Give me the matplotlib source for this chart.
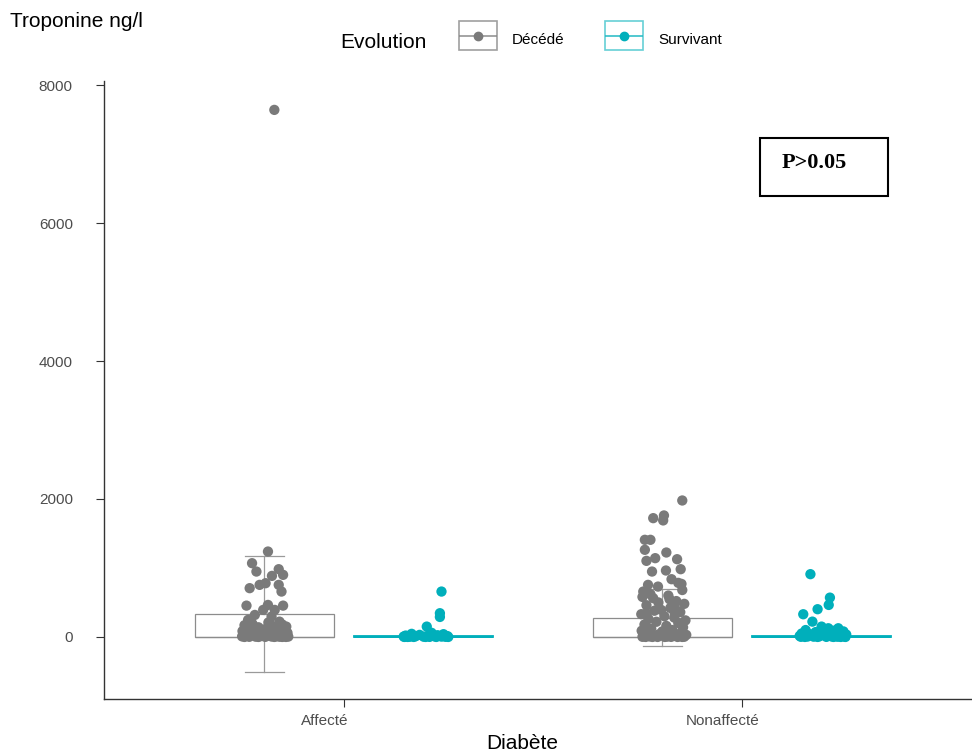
import matplotlib
matplotlib.use("Agg")
import matplotlib.pyplot as plt
import matplotlib.transforms as mtransforms
from matplotlib.patches import Rectangle
from matplotlib.lines import Line2D

plt.rcParams['font.family'] = ['Liberation Sans', 'DejaVu Sans']

groups = ['Affecté', 'Nonaffecté']
evolutions = ['Décédé', 'Survivant']
col_dec = '#7a7a7a'
col_surv = '#00AFBB'

# boxplot stats per group (Affecté, Nonaffecté)
dec_whislo = [-508, -130]
dec_q1 = [0, 0]
dec_med = [0, 0]
dec_q3 = [334, 276]
dec_whishi = [1176, 700]

surv_whislo = [0, 0]
surv_q1 = [0, 0]
surv_med = [0, 0]
surv_q3 = [12, 12]
surv_whishi = [25, 25]

# jittered points: values and horizontal jitter (category units)
dec_aff_vals = [7640, 1238, 1069, 948, 982, 885, 900, 779, 755, 707, 755, 658,
                454, 464, 454, 392, 392, 319, 247, 295, 222,
                210, 190, 180, 170, 160, 150, 140, 130, 120, 110, 100, 95, 90,
                85, 80, 75, 70, 65, 60, 55, 50, 45, 40, 35, 30, 28, 25, 22,
                20, 18, 15, 12, 10, 8, 6, 5, 4, 3, 2, 1, 0, 0, 0, 0, 0]
dec_aff_jit = [0.025, 0.009, -0.031, -0.020, 0.036, 0.019, 0.047, 0.003, -0.012,
               -0.037, 0.036, 0.043, -0.045, 0.009, 0.047, 0.026, -0.003,
               -0.024, -0.041, 0.018, 0.038,
               0.010, -0.030, 0.045, -0.050, 0.020, 0.055, -0.015, 0.035,
               -0.040, 0.000, 0.050, -0.025, 0.028, -0.055, 0.015, 0.042,
               -0.008, -0.035, 0.058, 0.005, -0.048, 0.032, -0.018, 0.052,
               -0.030, 0.022, -0.052, 0.040, 0.012, -0.043, 0.048, -0.010,
               0.030, -0.056, 0.018, 0.060, -0.022, 0.038, -0.038, 0.002,
               -0.050, 0.054, 0.025, -0.015, 0.045]

surv_aff_vals = [658, 344, 290, 150, 60, 45, 40, 30, 25, 20, 15, 12, 10, 8,
                 6, 5, 4, 3, 2, 1, 0, 0, 0, 0, 0, 0]
surv_aff_jit = [0.045, 0.041, 0.041, 0.008, 0.020, -0.030, 0.050, -0.010,
                0.035, -0.045, 0.010, 0.060, -0.020, 0.028, -0.050, 0.045,
                0.000, -0.035, 0.055, 0.015, -0.048, 0.062, -0.025, 0.032,
                -0.040, 0.005]

dec_non_vals = [1978, 1722, 1761, 1689, 1408, 1408, 1263, 1224, 1103, 1142, 1127,
                948, 963, 982, 837, 769, 784, 755, 730, 658, 562, 547, 440,
                392, 344, 344,
                680, 620, 600, 580, 520, 500, 480, 460, 420, 380, 360, 330,
                300, 280, 260, 240, 220, 200, 180, 160, 140, 120, 100, 90,
                80, 70, 60, 50, 40, 30, 25, 20, 15, 10, 8, 5, 3, 2, 1,
                0, 0, 0, 0, 0, 0]
dec_non_jit = [0.050, -0.023, 0.004, 0.002, -0.044, -0.030, -0.044, 0.010,
               -0.040, -0.018, 0.037, -0.026, 0.009, 0.046, 0.023, 0.048,
               0.040, -0.036, -0.011, -0.048, -0.023, 0.018, 0.031, -0.003,
               -0.040, 0.031,
               0.050, -0.030, 0.015, -0.050, 0.035, -0.010, 0.055, -0.040,
               0.020, -0.020, 0.045, -0.053, 0.005, 0.030, -0.035, 0.058,
               -0.015, 0.040, -0.045, 0.010, 0.052, -0.028, 0.025, -0.052,
               0.000, 0.048, -0.038, 0.018, -0.008, 0.060, -0.048, 0.032,
               -0.022, 0.042, -0.032, 0.012, 0.055, -0.050, 0.022, -0.012,
               0.038, -0.042, 0.006, 0.050, -0.025]

surv_non_vals = [910, 570, 464, 402, 329, 222, 150, 126, 126,
                 100, 90, 80, 70, 60, 50, 45, 40, 35, 30, 25, 20, 18, 15, 12,
                 10, 8, 6, 5, 4, 3, 2, 1, 0, 0, 0, 0, 0]
surv_non_jit = [-0.028, 0.021, 0.018, -0.010, -0.046, -0.023, 0.000, 0.042, 0.017,
                -0.040, 0.030, 0.055, -0.015, 0.010, -0.050, 0.045, -0.030,
                0.062, 0.000, -0.045, 0.035, 0.020, -0.055, 0.050, -0.005,
                0.025, -0.035, 0.058, -0.020, 0.040, -0.052, 0.012, 0.060,
                -0.042, 0.030, -0.010, 0.048]

fig = plt.figure(figsize=(9.72, 7.54), dpi=100)
ax = fig.add_axes([0.107, 0.0729, 0.893, 0.8196])

dodge = 0.2
width = 0.35

for gi in range(len(groups)):
    xc = gi + 1
    dec = dict(whislo=dec_whislo[gi], q1=dec_q1[gi], med=dec_med[gi],
               q3=dec_q3[gi], whishi=dec_whishi[gi], fliers=[])
    ax.bxp([dec], positions=[xc - dodge], widths=width, capwidths=0.098,
           showfliers=False, patch_artist=True,
           boxprops=dict(facecolor='white', edgecolor='#8c8c8c', linewidth=0.9),
           whiskerprops=dict(color='#9a9a9a', linewidth=0.9),
           capprops=dict(color='#9a9a9a', linewidth=0.9),
           medianprops=dict(color='#8c8c8c', linewidth=0.9))
    surv = dict(whislo=surv_whislo[gi], q1=surv_q1[gi], med=surv_med[gi],
                q3=surv_q3[gi], whishi=surv_whishi[gi], fliers=[])
    ax.bxp([surv], positions=[xc + dodge], widths=width, capwidths=0.098,
           showfliers=False, patch_artist=True,
           boxprops=dict(facecolor='white', edgecolor=col_surv, linewidth=1.3),
           whiskerprops=dict(color=col_surv, linewidth=1.0),
           capprops=dict(color=col_surv, linewidth=1.0),
           medianprops=dict(color=col_surv, linewidth=1.3))

point_sets = [
    (1 - dodge, dec_aff_vals, dec_aff_jit, col_dec),
    (1 + dodge, surv_aff_vals, surv_aff_jit, col_surv),
    (2 - dodge, dec_non_vals, dec_non_jit, col_dec),
    (2 + dodge, surv_non_vals, surv_non_jit, col_surv),
]
for xc, vals, jit, c in point_sets:
    xs = [xc + j for j in jit]
    ax.scatter(xs, vals, s=55, color=c, edgecolors='none', zorder=3)

ax.set_xlim(0.397, 2.578)
ax.set_ylim(-900, 8058)
ax.set_yticks([0, 2000, 4000, 6000, 8000])
ax.set_xticks([1, 2])
ax.set_xticklabels(groups)

for s in ['top', 'right']:
    ax.spines[s].set_visible(False)
for s in ['left', 'bottom']:
    ax.spines[s].set_color('#333333')
    ax.spines[s].set_linewidth(1.0)

ax.tick_params(axis='y', length=5.5, width=0.8, color='#333333',
               labelcolor='#4d4d4d', labelsize=11, pad=17)
ax.tick_params(axis='x', length=5.5, width=0.8, color='#333333',
               labelcolor='#4d4d4d', labelsize=11, pad=5)
shift = mtransforms.ScaledTranslation(-0.19, 0, fig.dpi_scale_trans)
for lab in ax.get_xticklabels():
    lab.set_transform(lab.get_transform() + shift)

ax.set_xlabel('Diabète', fontsize=15)
ax.xaxis.set_label_coords(0.4816, -0.056)
ax.set_ylabel('Troponine ng/l', fontsize=15, rotation=0, ha='left', va='center')
ax.yaxis.set_label_coords(-0.108, 1.096)

# p-value annotation
ax.add_patch(Rectangle((0.7558, 0.8139), 0.1475, 0.0939, transform=ax.transAxes,
                       fill=False, edgecolor='black', linewidth=1.5))
ax.text(0.8186, 0.867, 'P>0.05', transform=ax.transAxes, ha='center', va='center',
        fontsize=16, fontweight='bold', family=['Liberation Serif', 'DejaVu Serif'])

# legend at the top
W, H = 972.0, 754.0
fig.text(340 / W, 1 - 43 / H, 'Evolution', fontsize=15, ha='left', va='center')
for name, c, kx, tx, edge in [('Décédé', col_dec, 459, 512, '#a0a0a0'),
                              ('Survivant', col_surv, 605, 658, '#66cfd6')]:
    fig.add_artist(Rectangle((kx / W, 1 - 50 / H), 38 / W, 29 / H,
                             transform=fig.transFigure, fill=False,
                             edgecolor=edge, linewidth=1.2))
    fig.add_artist(Line2D([(kx + 1) / W, (kx + 37) / W], [1 - 36 / H, 1 - 36 / H],
                          transform=fig.transFigure, color=c, linewidth=1.2,
                          alpha=0.8))
    fig.add_artist(Line2D([(kx + 19) / W], [1 - 36 / H], transform=fig.transFigure,
                          marker='o', markersize=6, color=c, linestyle='none'))
    fig.text(tx / W, 1 - 40 / H, name, fontsize=11, ha='left', va='center')

fig.savefig('out.png', dpi=100)
